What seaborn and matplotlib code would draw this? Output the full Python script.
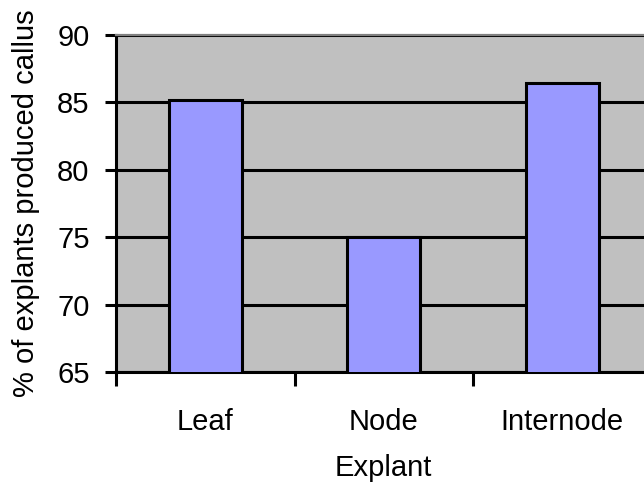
import matplotlib
matplotlib.use("Agg")
import matplotlib.pyplot as plt
import seaborn as sns
import pandas as pd

categories = ["Leaf", "Node", "Internode"]
values = [85.2, 75.0, 86.4]
y_ticks = [65, 70, 75, 80, 85, 90]

plt.rcParams['font.family'] = ['Liberation Sans', 'DejaVu Sans']

df = pd.DataFrame({"Explant": categories, "pct": values})

fig = plt.figure(figsize=(6.44, 4.84), dpi=100)
ax = fig.add_axes([116/644, 1 - 372.3/484, (651.5-116)/644, (372.3-34.8)/484])
ax.set_facecolor('#c0c0c0')

sns.barplot(data=df, x="Explant", y="pct", color='#9999ff', saturation=1,
            edgecolor='black', linewidth=2.2, width=0.41, ax=ax, zorder=3)

ax.set_ylim(65, 90)
ax.set_xlim(-0.5, 2.5)
ax.set_yticks(y_ticks)
ax.set_yticklabels([str(v) for v in y_ticks])
ax.yaxis.grid(True, color='black', linewidth=2.2)
ax.set_axisbelow(True)

# x ticks at category boundaries, labels at centres
ax.set_xticks([-0.5, 0.5, 1.5])
ax.set_xticklabels(["", "", ""])
ax.set_xticks([0, 1, 2], minor=True)
ax.set_xticklabels(categories, minor=True)
ax.tick_params(axis='x', which='major', length=10, width=2.2, color='black', direction='out')
ax.tick_params(axis='x', which='minor', length=0, pad=26, labelsize=21)
ax.tick_params(axis='y', length=8, width=2.2, color='black', direction='out', pad=11, labelsize=21)

for s in ['left', 'bottom']:
    ax.spines[s].set_color('black')
    ax.spines[s].set_linewidth(2.2)
ax.spines['right'].set_visible(False)
ax.spines['top'].set_color('#808080')
ax.spines['top'].set_linewidth(1.6)

ax.set_xlabel("Explant", fontsize=21, labelpad=13)
ax.set_ylabel("% of explants produced callus", fontsize=21, labelpad=12)

fig.savefig("out.png", dpi=100)
